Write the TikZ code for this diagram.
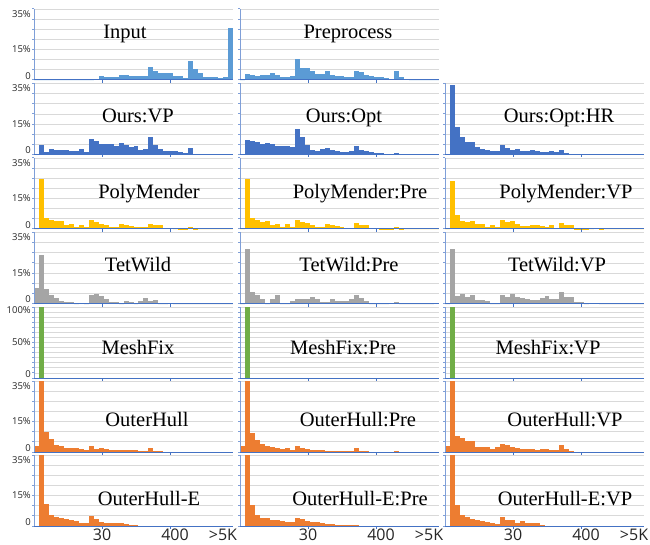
\documentclass[tikz,border=0pt]{standalone}
\usepackage{fontspec}
\setmainfont{Liberation Serif}
\newfontfamily\axisfont{Open Sans}
\definecolor{cInput}{HTML}{5B9BD5}
\definecolor{cOurs}{HTML}{4472C4}
\definecolor{cPoly}{HTML}{FFC000}
\definecolor{cTet}{HTML}{A5A5A5}
\definecolor{cMesh}{HTML}{70AD47}
\definecolor{cOuter}{HTML}{ED7D31}
\definecolor{cGrid}{HTML}{D9D9D9}
\definecolor{cVax}{HTML}{7F9FD8}
\definecolor{cHax}{HTML}{4472C4}
\newcommand{\PW}{199}
\newcommand{\PH}{71}
% #1 x0, #2 y of axis, #3 colour, #4 max value, #5 grid intervals, #6 data (40 bins)
\newcommand{\histpanel}[6]{%
  \foreach \g in {1,...,#5}{\draw[gridline] (#1,{#2-\g*\PH/#5}) -- ++(\PW,0);}
  \foreach \v [count=\i from 0] in {#6}{%
    \pgfmathsetmacro{\hh}{min(\v,#4)/#4*\PH}%
    \fill[#3] ({#1+\i*\PW/40},#2) rectangle ({#1+(\i+1)*\PW/40},{#2-\hh});
  }
  \draw[vaxis] (#1,#2) -- (#1,{#2-\PH});
  \foreach \g in {0,...,#5}{\draw[vaxis] (#1,{#2-\g*\PH/#5}) -- ++(-2.5,0);}
  \draw[haxis] (#1,#2) -- ++(\PW,0);
  \draw[haxis] ({#1+0.342*\PW},#2) -- ++(0,3);
  \draw[haxis] ({#1+0.686*\PW},#2) -- ++(0,3);
}
\tikzset{
  gridline/.style={draw=cGrid, line width=0.8pt},
  vaxis/.style={draw=cVax, line width=1pt},
  haxis/.style={draw=cHax, line width=1pt},
  ttl/.style={font=\fontsize{20.5}{24}\selectfont, inner sep=0pt, anchor=base},
  ylab/.style={font=\axisfont\fontsize{9.5}{11}\selectfont, inner sep=0pt, anchor=east, text=black!85},
  xlab/.style={font=\axisfont\fontsize{16}{19}\selectfont, inner sep=0pt, anchor=base, text=black!85},
}
\begin{document}
\begin{tikzpicture}[x=1pt,y=-1pt]
\fill[white] (0,0) rectangle (650,545);
\useasboundingbox (0,0) rectangle (650,545);
% row 1
\histpanel{34}{80}{cInput}{35}{7}{0,0,0,0,0,0,0,0,0,0,0,0,0.6,2,1.6,1.6,1.6,2.4,2.4,2,2,2,2,6.6,4.2,3.4,3.4,3.4,2,2,1,9.4,5.2,3.5,1.6,1.6,1.6,1,1.6,25.6}
\histpanel{240}{80}{cInput}{35}{7}{0,3,2.4,2,2.6,2.6,3.5,2.6,1.6,1.6,2,10.5,5.8,5.8,4.2,2.9,2.9,4.2,2.3,2,2,1.6,1.6,4.2,3.7,2.6,2,1.5,1.5,0.8,0.5,4.5,1.5,0.6,0,0,0,0,0,0}
% row 2
\histpanel{34}{154.5}{cOurs}{35}{7}{0,4.7,1.4,2.6,2.3,2.2,2.1,1.6,1.6,2.9,1,7.8,6.8,5.4,5,5,4.3,5.5,4.9,3.6,4.2,2.4,2.8,8.7,4.5,2.8,1.7,1.7,1.6,1.2,0.9,3.1,0.2,0.3,0.3,0.1,0.1,0.1,0.1,0.1}
\histpanel{240}{154.5}{cOurs}{35}{7}{0,7.1,6.8,6.2,5,5.9,5.4,4.3,4.3,4,3.6,12.5,8.7,4.5,2.4,1.9,2.6,3.3,2.1,1.9,1.4,1.4,1.6,4.3,2.3,1.6,1,0.5,0.5,0.2,0.2,0.5,0,0,0,0,0,0,0,0}
\histpanel{445}{154.5}{cOurs}{35}{7}{0,34.5,13.7,8.5,6.1,6.2,3.5,2.9,2.4,1.7,1.7,4.5,3.1,2.3,2.6,1.6,1.6,2.3,1.9,1.4,1.4,1.7,1,2.3,0.5,0.2,0.2,0.2,0.2,0.2,0.2,0.2,0.2,0.2,0.2,0.2,0.2,0.2,0.2,0.2}
% row 3
\histpanel{34}{229}{cPoly}{35}{7}{0,24.7,5.3,4.2,3.9,4.1,1.8,2.6,0.9,2.1,1.1,4.2,3.4,2.6,2.1,1.1,1.1,2.6,2.1,1.6,1.2,0.9,0.9,2.6,2.1,2.1,0.5,0.5,0,0.2,0.2,0.9,0.2,0,0,0,0,0,0,0}
\histpanel{240}{229}{cPoly}{35}{7}{0,24.7,5.3,4.2,3.5,3.9,2.1,2.6,1.1,2.5,1.1,4.2,3.4,2.8,2.1,1.2,1.2,2.6,1.9,1.6,1.2,0.7,0.7,2.8,2.1,2.1,0.5,0.5,0.2,0.2,0.2,0.9,0.2,0,0,0,0,0,0,0}
\histpanel{445}{229}{cPoly}{35}{7}{0,23.8,7.1,4.1,3.4,3.7,2.5,2.5,0.9,2.1,0.9,4.4,3.5,3.9,2.3,1.6,1.6,2.1,2.1,1.4,1.1,1.9,0.5,2.8,2.1,2.1,0.2,0.2,0.2,0,0.7,0.2,0,0,0,0,0,0,0,0}
% row 4
\histpanel{34}{303.5}{cTet}{35}{7}{7.4,23.7,7,4.2,2.6,1.4,0.5,0.7,0,0.4,0,4,4.7,3.5,2.1,0.7,0.7,0,1.4,0.9,0,1,2.5,1.2,1.6,0,0,0.2,0,0,0,0,0,0,0,0,0,0,0,0}
\histpanel{240}{303.5}{cTet}{35}{7}{0,26.7,5.5,4,2.1,0,2.4,4,0,0,1.2,2.1,2.4,2.4,3.3,2.4,0.7,0.7,2.2,1.4,1.2,1.2,2.1,4,2.6,1,0,0,0,0,0.4,0.7,0,0,0,0,0,0,0,0.3}
\histpanel{445}{303.5}{cTet}{35}{7}{0,27,3.8,4.5,3.3,4.3,1.7,1.7,1.2,0,0,4,3.1,4.5,3.3,2.8,2.4,1.9,1.9,2.6,3.8,2.1,2.1,5.5,3.3,3.3,0.7,0.7,0,0.3,0.3,0,0,0,0,0,0,0,0,0}
% row 5
\histpanel{34}{378}{cMesh}{100}{14}{0,100,0,0,0,0,0,0,0,0,0,0,0,0,0,0,0,0,0,0,0,0,0,0,0,0,0,0,0,0,0,0,0,0,0,0,0,0,0,0}
\histpanel{240}{378}{cMesh}{100}{14}{0,100,0,0,0,0,0,0,0,0,0,0,0,0,0,0,0,0,0,0,0,0,0,0,0,0,0,0,0,0,0,0,0,0,0,0,0,0,0,0}
\histpanel{445}{378}{cMesh}{100}{14}{0,100,0,0,0,0,0,0,0,0,0,0,0,0,0,0,0,0,0,0,0,0,0,0,0,0,0,0,0,0,0,0,0,0,0,0,0,0,0,0}
% row 6
\histpanel{34}{452}{cOuter}{35}{7}{2.8,40,9.7,6.6,3.3,2.8,2,2,1.8,1.3,1,3.1,1.6,2,1.3,0.8,0.8,1.1,0.9,0.8,0.8,0.7,0.5,1.8,0.5,0.5,0.15,0.15,0.15,0.15,0,0.2,0,0,0,0,0,0,0,0}
\histpanel{240}{452}{cOuter}{35}{7}{2.8,40,9.2,5.9,3.9,3,2.5,2.1,1.6,2.1,1,2.8,1.8,1.6,1.1,0.8,0.8,0.7,0.7,0.5,0.3,0.3,0.3,2,0.5,0.5,0.15,0.15,0.15,0.15,0,0.7,0,0,0,0,0,0,0,0}
\histpanel{445}{452}{cOuter}{35}{7}{2.8,40,7.9,6.9,5.4,5.4,2.3,2.6,2.3,1.6,2.3,4.1,3.6,2.3,2,1.5,1.6,1.6,1.1,1.3,1.3,1.1,1,3.4,1.6,0.7,0.15,0.15,0.15,0,0.2,0,0,0,0,0,0,0,0,0}
% row 7
\histpanel{34}{526}{cOuter}{35}{7}{0,40,10.8,5.4,4.4,4,3.3,2.8,2.5,1.5,1.5,4.9,3.6,1.8,1.6,1.3,1.5,1.5,1,0.3,0.3,0.1,0.1,0.1,0.1,0.1,0.1,0.1,0.1,0.1,0.1,0.1,0.1,0.1,0.1,0.1,0.1,0.1,0.1,0.1}
\histpanel{240}{526}{cOuter}{35}{7}{0,40,10.2,5.2,4,3.7,3,3,2.3,2,2,4.1,3.3,2.5,1.8,1.8,1.5,1.1,1.1,0.7,0.7,0.3,0.3,0.5,0.1,0.1,0.1,0.1,0.1,0.1,0.1,0.1,0.1,0.1,0.1,0.1,0.1,0.1,0.1,0.1}
\histpanel{445}{526}{cOuter}{35}{7}{0,40,10.3,5.2,4.3,3.3,3,2.6,2.1,1.3,0.8,4.6,3.1,3,1.3,2.3,1.6,1.5,1.5,0.5,0.1,0.1,0.1,0.1,0.1,0.1,0.1,0.1,0.1,0.1,0.1,0.1,0.1,0.1,0.1,0.1,0.1,0.1,0.1,0.1}
% y-axis labels (first column)
\foreach \r/\n in {80/a,154.5/b,229/c,303.5/d,452/f,526/g}{
  \node[ylab] (ytop\n) at (31,{\r-\PH+5}) {35\%};
  \node[ylab] (ymid\n) at (31,{\r-15/35*\PH}) {15\%};
  \node[ylab] (yzero\n) at (31,{\r-4}) {0};
}
\node[ylab] (ytope) at (31,{378-\PH+3}) {100\%};
\node[ylab] (ymide) at (31,{378-\PH/2}) {50\%};
\node[ylab] (yzeroe) at (31,374) {0};
% x-axis labels
\foreach \c/\n in {34/a,240/b,445/c}{
  \node[xlab] (xa\n) at ({\c+68},540) {30};
  \node[xlab] (xb\n) at ({\c+141},540) {400};
  \node[xlab] (xc\n) at ({\c+189},540) {>5K};
}
% titles
\node[ttl] (tInput) at (125,39) {Input};
\node[ttl] (tPre) at (348,39) {Preprocess};
\node[ttl] (tOVP) at (138,123) {Ours:VP};
\node[ttl] (tOOpt) at (344,123) {Ours:Opt};
\node[ttl] (tOHR) at (559,123) {Ours:Opt:HR};
\node[ttl] (tPM) at (149,199) {PolyMender};
\node[ttl] (tPMPre) at (360,199) {PolyMender:Pre};
\node[ttl] (tPMVP) at (566,199) {PolyMender:VP};
\node[ttl] (tTW) at (138,272) {TetWild};
\node[ttl] (tTWPre) at (349,272) {TetWild:Pre};
\node[ttl] (tTWVP) at (557,272) {TetWild:VP};
\node[ttl] (tMF) at (138,354) {MeshFix};
\node[ttl] (tMFPre) at (343,354) {MeshFix:Pre};
\node[ttl] (tMFVP) at (548,354) {MeshFix:VP};
\node[ttl] (tOH) at (147,426) {OuterHull};
\node[ttl] (tOHPre) at (358,426) {OuterHull:Pre};
\node[ttl] (tOHVP) at (565,426) {OuterHull:VP};
\node[ttl] (tOE) at (149,505) {OuterHull-E};
\node[ttl] (tOEPre) at (360,505) {OuterHull-E:Pre};
\node[ttl] (tOEVP) at (565,505) {OuterHull-E:VP};
\end{tikzpicture}
\end{document}
